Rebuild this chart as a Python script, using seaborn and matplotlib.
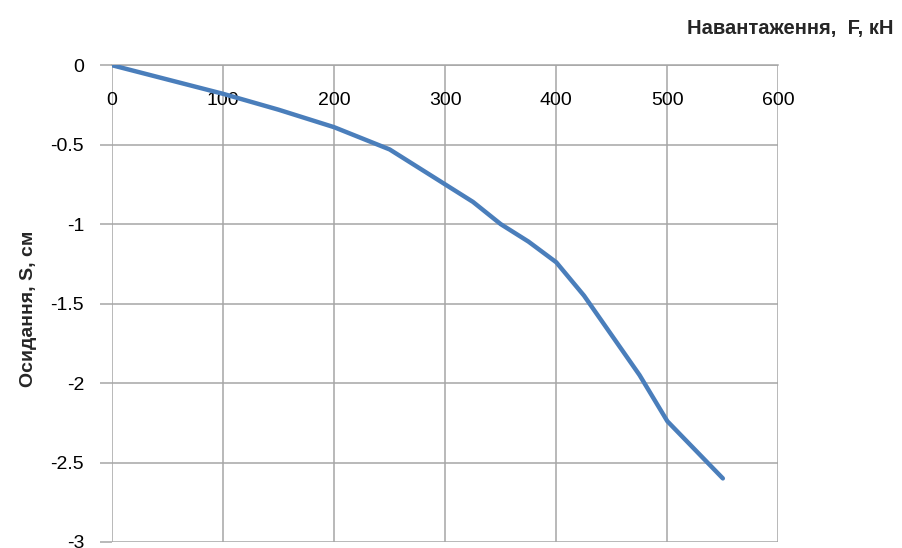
import matplotlib
matplotlib.use("Agg")
import matplotlib.pyplot as plt
import seaborn as sns
import pandas as pd

# дані
load_kn = [0, 50, 100, 150, 200, 250, 300, 325, 350, 375, 400, 425, 450, 475, 500, 525, 550]
settle_cm = [0, -0.09, -0.18, -0.28, -0.39, -0.53, -0.75, -0.86, -1.0, -1.11, -1.24,
             -1.45, -1.7, -1.95, -2.24, -2.42, -2.6]
x_ticks = [0, 100, 200, 300, 400, 500, 600]
y_ticks = [0, -0.5, -1, -1.5, -2, -2.5, -3]
y_tick_labels = ["0", "-0.5", "-1", "-1.5", "-2", "-2.5", "-3"]

sns.set_style("white")
plt.rcParams["font.family"] = ["Liberation Sans", "DejaVu Sans"]

df = pd.DataFrame({"F": load_kn, "S": settle_cm})

fig = plt.figure(figsize=(9.03, 5.48), dpi=100)
ax = fig.add_axes([0.124, 0.011, 0.738, 0.870])

sns.lineplot(data=df, x="F", y="S", ax=ax, color="#4a7ebb", linewidth=3.2,
             solid_capstyle="round", solid_joinstyle="round", zorder=3)

ax.set_xlim(0, 600)
ax.set_ylim(-3, 0)
ax.set_xticks(x_ticks)
ax.set_yticks(y_ticks)
ax.set_yticklabels(y_tick_labels)

ax.grid(True, color="#a6a6a6", linewidth=1.1)
for s in ["top", "right", "left"]:
    ax.spines[s].set_visible(False)
# вісь X проходить через нуль, підписи під нею
ax.spines["bottom"].set_position(("data", 0))
ax.spines["bottom"].set_color("#a6a6a6")
ax.spines["bottom"].set_linewidth(1.1)

ax.tick_params(axis="x", length=0, labelsize=14, pad=19, labelcolor="black")
ax.tick_params(axis="y", left=True, length=9, width=1.1, color="#a6a6a6",
               labelsize=14, pad=11, labelcolor="black")

ax.set_xlabel("")
ax.set_ylabel("Осидання, S, см", fontsize=14, fontweight="bold")
ax.yaxis.set_label_coords(-0.112, 0.49)
fig.text(0.99, 0.948, "Навантаження,  F, кН", ha="right", va="center",
         fontsize=14.5, fontweight="bold")

fig.savefig("out.png", dpi=100)
